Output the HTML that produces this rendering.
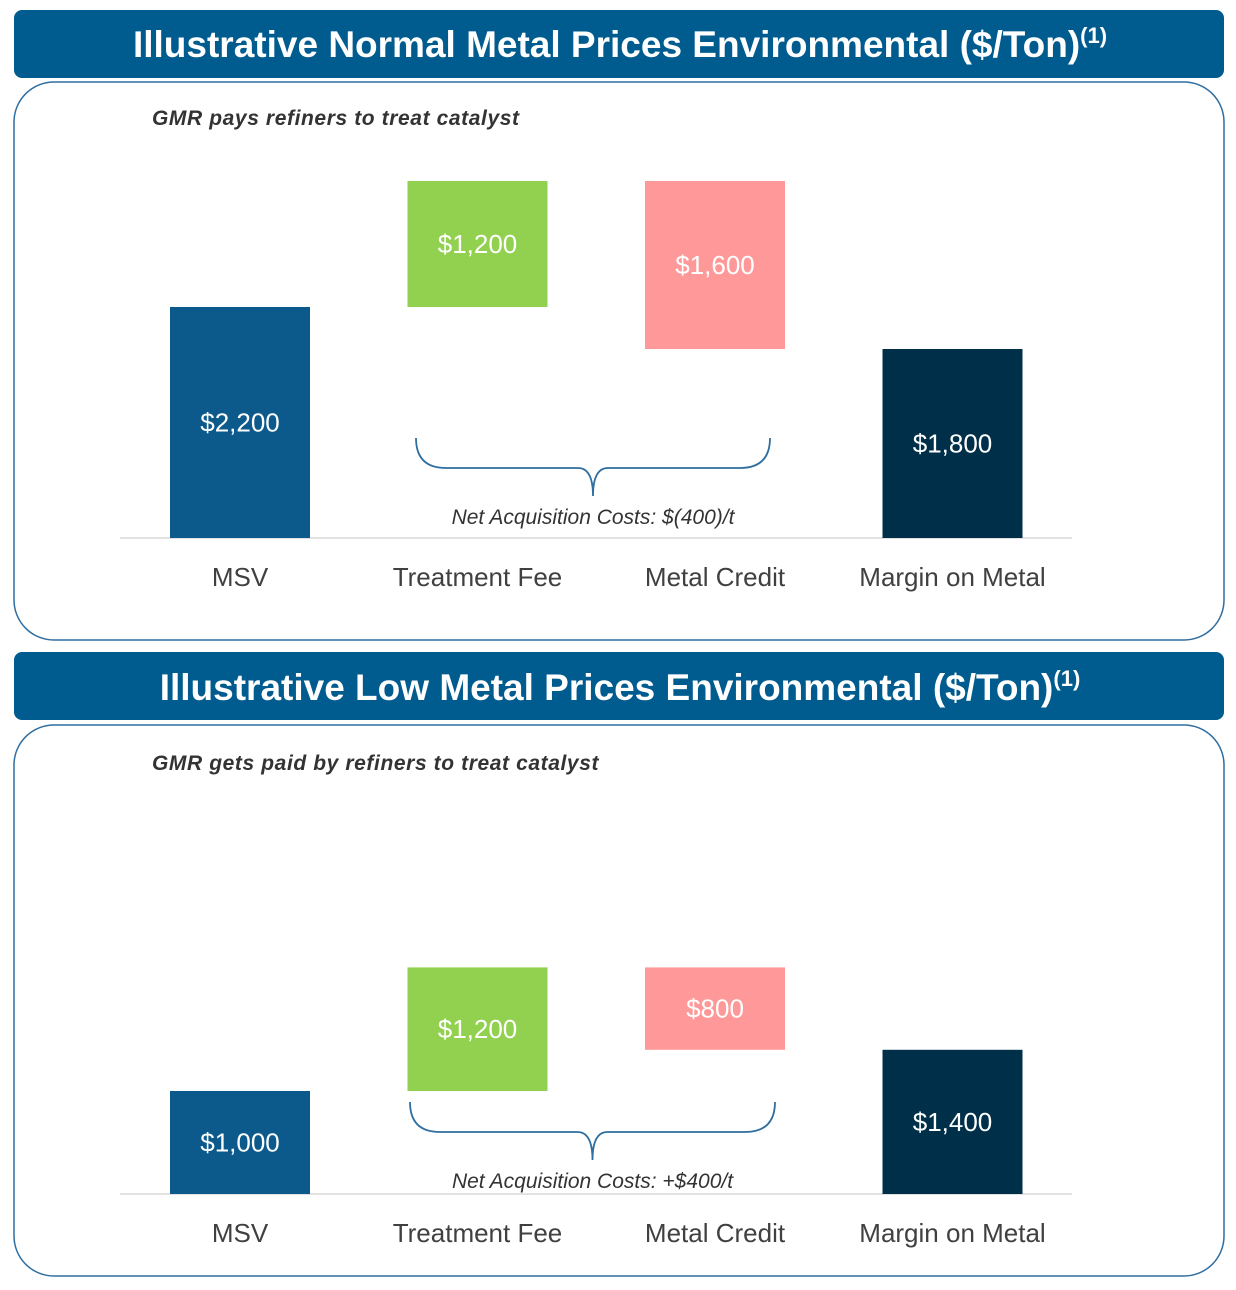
<!DOCTYPE html>
<html><head><meta charset="utf-8"><style>
body{margin:0;background:#fff;}
svg{display:block;font-family:"Liberation Sans",sans-serif;}
</style></head><body>
<svg id="s" width="1236" height="1290" viewBox="0 0 1236 1290" xmlns="http://www.w3.org/2000/svg">
<rect x="14" y="10" width="1210" height="68" rx="8" fill="#005b8f"/>
<text x="620" y="57" text-anchor="middle" font-size="37" font-weight="bold" fill="#fff">Illustrative Normal Metal Prices Environmental ($/Ton)<tspan font-size="22" dy="-14">(1)</tspan></text>
<rect x="14" y="82" width="1210" height="558" rx="40" fill="#fff" stroke="#2f6ea0" stroke-width="1.5"/>
<text x="152" y="125" font-size="21" font-style="italic" font-weight="bold" fill="#333" letter-spacing="0.6">GMR pays refiners to treat catalyst</text>
<rect x="14" y="652" width="1210" height="68" rx="8" fill="#005b8f"/>
<text x="620" y="700" text-anchor="middle" font-size="37" font-weight="bold" fill="#fff">Illustrative Low Metal Prices Environmental ($/Ton)<tspan font-size="22" dy="-14">(1)</tspan></text>
<rect x="14" y="725" width="1210" height="551" rx="40" fill="#fff" stroke="#2f6ea0" stroke-width="1.5"/>
<text x="152" y="770" font-size="21" font-style="italic" font-weight="bold" fill="#333" letter-spacing="0.6">GMR gets paid by refiners to treat catalyst</text>
<g id="c1"></g><g id="c2"></g>
</svg>
<script>
const categories=["MSV","Treatment Fee","Metal Credit","Margin on Metal"];
const normalValues=[2200,1200,-1600,1800];
const lowValues=[1000,1200,-800,1400];
const normalLabels=["$2,200","$1,200","$1,600","$1,800"];
const lowLabels=["$1,000","$1,200","$800","$1,400"];
const normalNote="Net Acquisition Costs: $(400)/t";
const lowNote="Net Acquisition Costs: +$400/t";
const colors=["#0b5a8b","#92d050","#ff9999","#003049"];
const NS="http://www.w3.org/2000/svg";
function mk(p,t,a){const e=document.createElementNS(NS,t);for(const k in a)e.setAttribute(k,a[k]);p.appendChild(e);return e;}
function draw(g,vals,labels,note,base,name,bx0,bx1,k,bOff){
  const y=v=>base-v*k;const x=i=>240+i*237.5;const w=140;
  const ax=mk(g,"line",{x1:120,x2:1072,y1:base,y2:base,stroke:"#d9d9d9","stroke-width":1.5});
  
  let run=0;
  vals.forEach((v,i)=>{
    let a,b;
    if(i===0||i===vals.length-1){a=0;b=v;run=v;}else{a=run;b=run+v;run=b;}
    const top=y(Math.max(a,b)),bot=y(Math.min(a,b));
    const r=mk(g,"rect",{x:x(i)-w/2,y:top,width:w,height:bot-top,fill:colors[i]});
    
    const t=mk(g,"text",{x:x(i),y:(top+bot)/2+9,"text-anchor":"middle","font-size":26,fill:"#fff"});
    t.textContent=labels[i];
    const c=mk(g,"text",{x:x(i),y:base+48,"text-anchor":"middle","font-size":26,fill:"#404040"});
    c.textContent=categories[i];
  });
  const by=base-bOff,m=(bx0+bx1)/2;
  const p=mk(g,"path",{d:`M${bx0} ${by} Q${bx0} ${by+30} ${bx0+30} ${by+30} L${m-15} ${by+30} Q${m} ${by+30} ${m} ${by+58} Q${m} ${by+30} ${m+15} ${by+30} L${bx1-30} ${by+30} Q${bx1} ${by+30} ${bx1} ${by}`,fill:"none",stroke:"#2f6ea0","stroke-width":1.8});
  
  const n=mk(g,"text",{x:m,y:by+86,"text-anchor":"middle","font-size":21,"font-style":"italic",fill:"#333"});
  n.textContent=note;
}
draw(document.getElementById("c1"),normalValues,normalLabels,normalNote,538,"normal",416,770,0.105,100);
draw(document.getElementById("c2"),lowValues,lowLabels,lowNote,1194,"low",410,775,0.103,92);
</script>
</body></html>
